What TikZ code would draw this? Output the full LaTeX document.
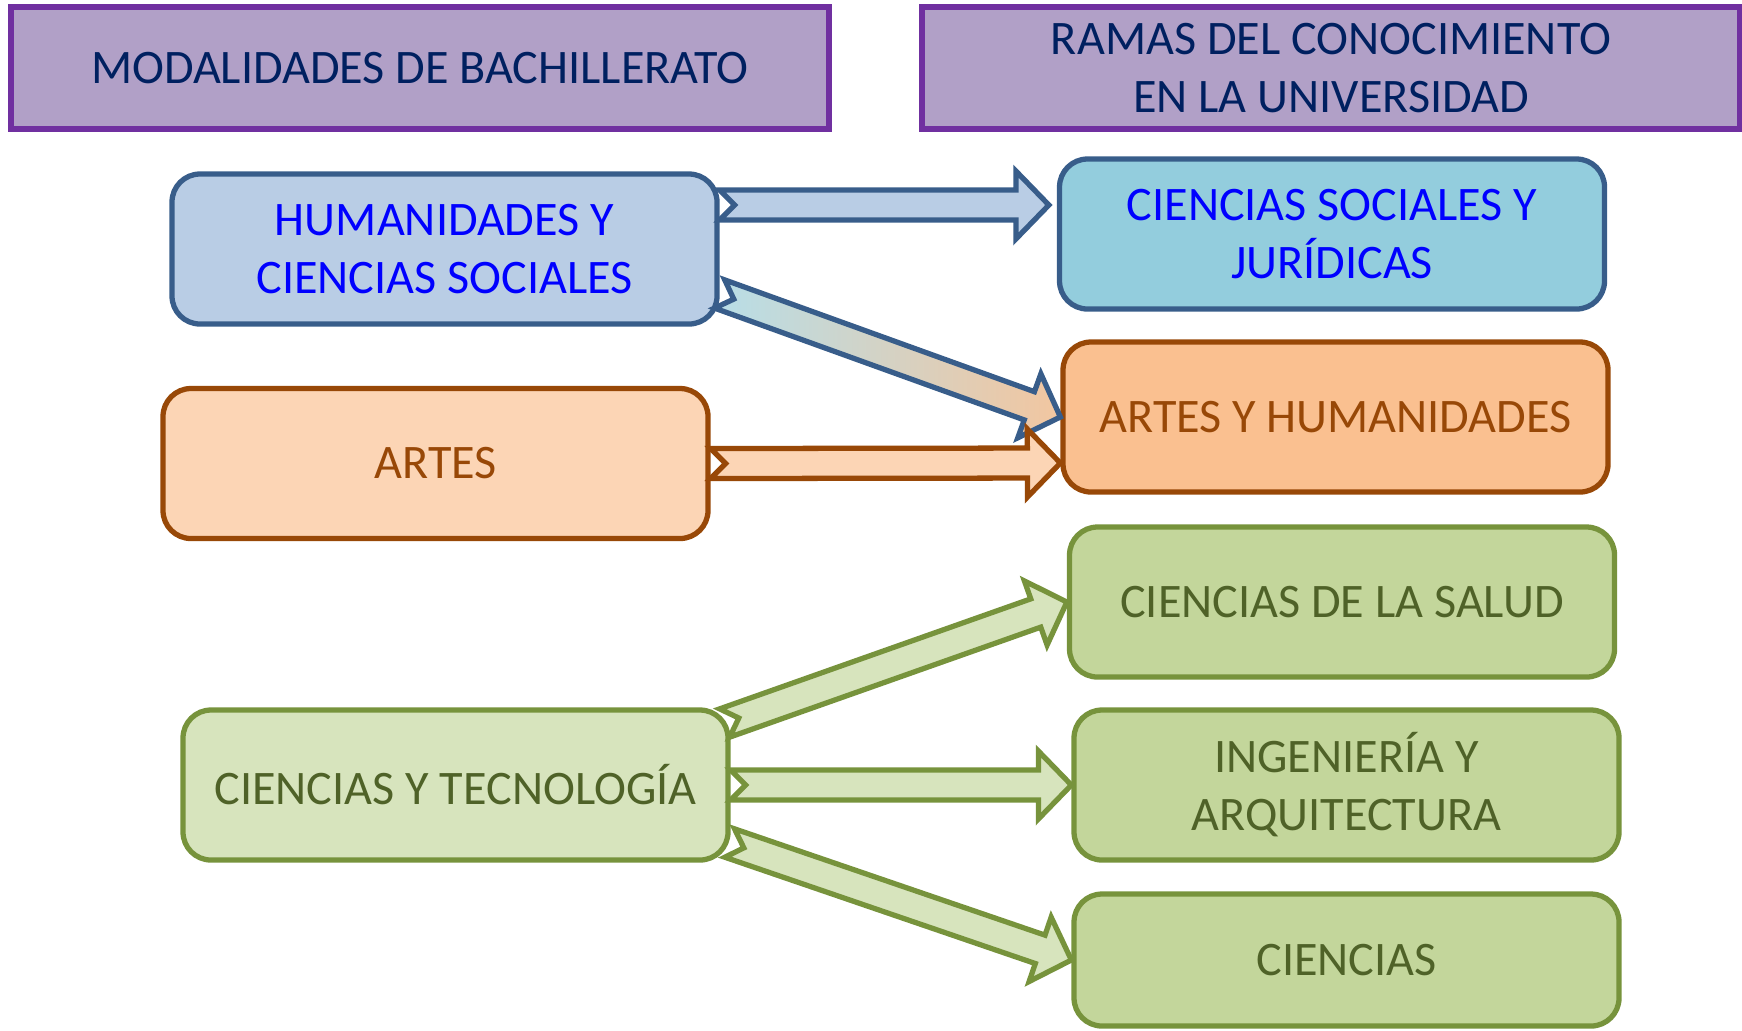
\documentclass[tikz,border=0pt]{standalone}
\usepackage{fontspec}
\setmainfont{Carlito}
\usetikzlibrary{calc}

\definecolor{headfill}{HTML}{B1A0C7}
\definecolor{headline}{HTML}{7030A0}
\definecolor{headtext}{HTML}{002060}
\definecolor{hcsfill}{HTML}{B9CDE5}
\definecolor{csjfill}{HTML}{93CDDD}
\definecolor{hcsline}{HTML}{385D8A}
\definecolor{artfill}{HTML}{FCD5B5}
\definecolor{ahfill}{HTML}{FAC090}
\definecolor{artline}{HTML}{984807}
\definecolor{ctfill}{HTML}{D7E4BD}
\definecolor{cfill}{HTML}{C3D69B}
\definecolor{ctline}{HTML}{77933C}
\definecolor{cttext}{HTML}{4F6228}
\definecolor{arrstart}{HTML}{B7DEE8}
\definecolor{arrmid}{HTML}{C4D0E8}
\definecolor{arrend}{HTML}{F2C6A0}

\newcommand{\blockarrow}[3]{%
  \coordinate (bc) at ($(#3)!0.33cm!(#2)$);
  \draw[#1] ($(#2)!0.15cm!90:(#3)$) -- ($(bc)!0.15cm!90:(#3)$) -- ($(bc)!0.34cm!90:(#3)$) -- (#3)
    -- ($(bc)!0.34cm!-90:(#3)$) -- ($(bc)!0.15cm!-90:(#3)$) -- ($(#2)!0.15cm!-90:(#3)$) -- ($(#2)!0.15cm!(#3)$) -- cycle;
}

\begin{document}
\begin{tikzpicture}[font=\fontsize{13.7}{16.5}\selectfont,
    head/.style = {draw=headline, fill=headfill, line width=1.6pt, minimum width=8.18cm, minimum height=1.22cm, text=headtext, align=center},
    box/.style = {draw, rounded corners=0.28cm, line width=1.5pt, minimum width=5.45cm, minimum height=1.5cm, align=center},
    hcsbox/.style = {box, draw=hcsline, fill=hcsfill, text=blue},
    csjbox/.style = {box, draw=hcsline, fill=csjfill, text=blue},
    artbox/.style = {box, draw=artline, fill=artfill, text=artline},
    ahbox/.style = {box, draw=artline, fill=ahfill, text=artline},
    ctbox/.style = {box, draw=ctline, fill=ctfill, text=cttext},
    cbox/.style = {box, draw=ctline, fill=cfill, text=cttext},
    hcsarrow/.style = {draw=hcsline, fill=hcsfill, line width=1.5pt},
    artarrow/.style = {draw=artline, fill=artfill, line width=1.5pt},
    ctarrow/.style = {draw=ctline, fill=ctfill, line width=1.5pt}]
    \useasboundingbox (0,0) rectangle (17.42,-10.30);
    \node[head] (mod) at (4.20,-0.68) {MODALIDADES DE BACHILLERATO};
    \node[head] (ramas) at (13.31,-0.68) {RAMAS DEL CONOCIMIENTO\\EN LA UNIVERSIDAD};
    \node[hcsbox] (hcs) at (4.445,-2.49) {HUMANIDADES Y\\CIENCIAS SOCIALES};
    \node[artbox] (art) at (4.355,-4.635) {ARTES};
    \node[ctbox] (ct) at (4.555,-7.85) {CIENCIAS Y TECNOLOGÍA};
    \node[csjbox] (csj) at (13.32,-2.34) {CIENCIAS SOCIALES Y\\JURÍDICAS};
    \node[ahbox] (ah) at (13.355,-4.17) {ARTES Y HUMANIDADES};
    \node[cbox] (salud) at (13.42,-6.02) {CIENCIAS DE LA SALUD};
    \node[cbox] (ing) at (13.465,-7.85) {INGENIERÍA Y\\ARQUITECTURA};
    \node[cbox, minimum height=1.32cm] (cien) at (13.465,-9.60) {CIENCIAS};
    \coordinate (t1) at ([yshift=0.44cm]hcs.east);
    \coordinate (p1) at ([xshift=-0.08cm, yshift=0.29cm]csj.west);
    \coordinate (t2) at ([yshift=-0.45cm]hcs.east);
    \coordinate (p3) at ([yshift=-0.46cm]ah.west);
    \coordinate (t4) at ([xshift=-0.06cm, yshift=0.62cm]ct.east);
    \coordinate (t6) at ([xshift=-0.01cm, yshift=-0.58cm]ct.east);
    \blockarrow{hcsarrow}{t1}{p1}
    \blockarrow{draw=hcsline, line width=1.5pt, left color=arrstart, middle color=arrmid, right color=arrend}{t2}{ah.west}
    \blockarrow{artarrow}{art.east}{p3}
    \blockarrow{ctarrow}{t4}{salud.west}
    \blockarrow{ctarrow}{ct.east}{ing.west}
    \blockarrow{ctarrow}{t6}{cien.west}
\end{tikzpicture}
\end{document}
